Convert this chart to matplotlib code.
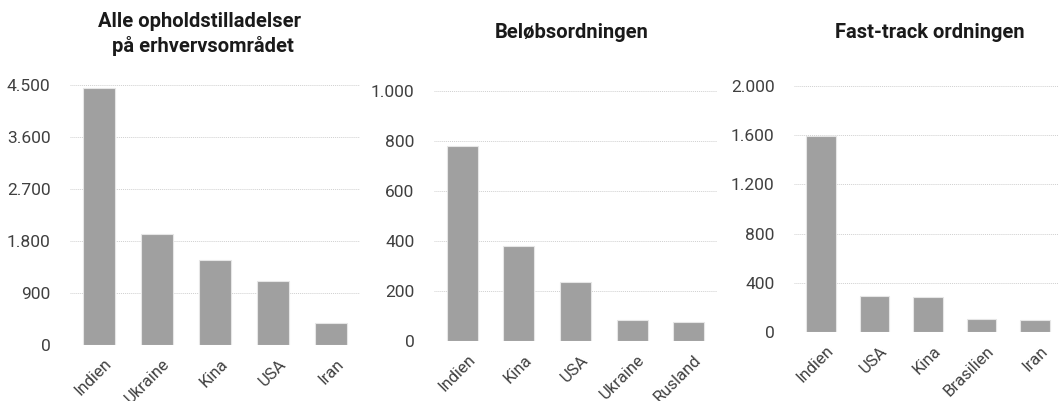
import matplotlib.pyplot as plt
import matplotlib.transforms as mtransforms
from matplotlib.ticker import FuncFormatter

plt.rcParams['font.family'] = ['Roboto', 'DejaVu Sans']

# data
alle_lande = ['Indien', 'Ukraine', 'Kina', 'USA', 'Iran']
alle_vaerdier = [4450, 1920, 1470, 1110, 380]

beloeb_lande = ['Indien', 'Kina', 'USA', 'Ukraine', 'Rusland']
beloeb_vaerdier = [780, 381, 236, 85, 75]

fast_lande = ['Indien', 'USA', 'Kina', 'Brasilien', 'Iran']
fast_vaerdier = [1590, 296, 288, 103, 98]

titler = ['Alle opholdstilladelser\n på erhvervsområdet', 'Beløbsordningen', 'Fast-track ordningen']
yticks = [[0, 900, 1800, 2700, 3600, 4500],
          [0, 200, 400, 600, 800, 1000],
          [0, 400, 800, 1200, 1600, 2000]]

W, H = 1058, 401
fig = plt.figure(figsize=(W / 100, H / 100), dpi=100)

# axes boxes in pixels: left, top(y of max tick), right, bottom(y of 0)
boxes = [(70, 85, 360, 345), (434, 91, 717, 341), (794, 86, 1062, 332)]
title_pos = [(200, 34), (572, 33), (930, 33)]

bar_color = '#a0a0a0'
text_color = '#404040'

fmt = FuncFormatter(lambda v, p: f'{int(v):,}'.replace(',', '.'))
shift = mtransforms.ScaledTranslation(5 / 100, 0, fig.dpi_scale_trans)

data = [(alle_lande, alle_vaerdier), (beloeb_lande, beloeb_vaerdier), (fast_lande, fast_vaerdier)]
for i, (lande, vaerdier) in enumerate(data):
    l, t, r, b = boxes[i]
    ax = fig.add_axes([l / W, 1 - b / H, (r - l) / W, (b - t) / H])
    x = range(len(lande))
    ax.bar(x, vaerdier, width=0.55, color=bar_color, edgecolor='#e6e6e6', linewidth=0.8, zorder=3)
    ax.set_xlim(-0.5, len(lande) - 0.5)
    ax.set_ylim(0, yticks[i][-1])
    ax.set_yticks(yticks[i])
    ax.yaxis.set_major_formatter(fmt)
    ax.grid(axis='y', color='#d0d0d0', linestyle=(0, (1, 1)), linewidth=0.7, zorder=0)
    for s in ax.spines.values():
        s.set_visible(False)
    ax.tick_params(axis='both', length=0, labelsize=12.5, colors=text_color, pad=14)
    ax.tick_params(axis='x', pad=8)
    ax.set_xticks(list(x))
    ax.set_xticklabels(lande, rotation=45, ha='right', rotation_mode='anchor', fontsize=12)
    for lab in ax.get_xticklabels():
        lab.set_transform(lab.get_transform() + shift)
    tx, ty = title_pos[i]
    fig.text(tx / W, 1 - ty / H, titler[i], ha='center', va='center', fontsize=14.5,
             fontweight='bold', color='#1a1a1a', linespacing=1.3)

fig.savefig('out.png', dpi=100)
